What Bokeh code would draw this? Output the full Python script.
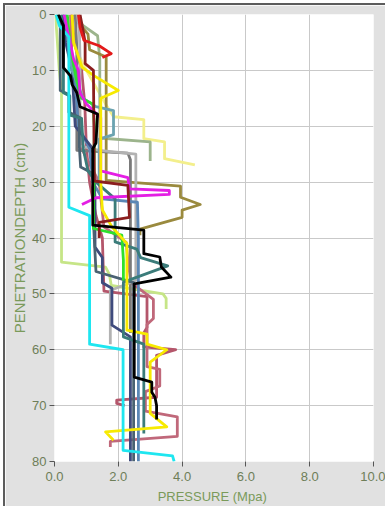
from bokeh.plotting import figure
from bokeh.models import Range1d, FixedTicker, NumeralTickFormatter
from bokeh.embed import file_html
from bokeh.resources import INLINE

x_ticks = [0, 2, 4, 6, 8, 10]
y_ticks = [0, 10, 20, 30, 40, 50, 60, 70, 80]

pale_yellow_p = [0.55, 0.6, 0.9, 1.3, 1.6, 1.85, 2.8, 2.8, 3.45, 3.45, 4.4]
pale_yellow_d = [0, 5, 9, 13, 16, 18.3, 18.8, 22.2, 22.8, 25.8, 26.9]
sage_p = [0.6, 0.9, 1.35, 1.42, 1.42, 3.0, 3.0]
sage_d = [0, 2, 3.8, 8, 22.1, 22.8, 26.2]
lime_pale_p = [0.03, 0.08, 0.15, 0.22, 0.22, 1.6, 1.72, 1.78, 3.4, 3.5, 3.5]
lime_pale_d = [0, 4, 10, 14, 44.3, 45.2, 46.5, 48.5, 50, 50.8, 52.7]
olive_p = [0.68, 0.75, 1.05, 1.1, 1.62, 1.62, 3.95, 3.95, 4.57, 4.0, 4.0, 2.68, 2.68]
olive_d = [0, 1.5, 3.5, 6.3, 7.6, 29.7, 30.7, 32.7, 34, 35, 36.3, 38.4, 39.5]
rosy1_p = [0.55, 0.62, 0.85, 0.95, 1.0, 1.1, 1.3, 1.5, 1.55, 2.9, 2.9, 2.8, 2.8, 3.8, 3.2, 3.2, 1.95, 1.95, 2.2]
rosy1_d = [0, 5, 10, 16, 24, 30, 36, 40, 49.5, 50.5, 56, 57, 59.5, 60, 61, 68.5, 69, 69.6, 70]
rosy2_p = [0.5, 0.55, 0.72, 0.8, 0.85, 1.4, 1.55, 2.25, 2.3, 2.4, 3.1, 3.1, 2.9, 2.9, 3.3, 3.3, 2.85, 2.85, 3.85, 3.85, 1.75, 1.75]
rosy2_d = [0, 8, 14, 20, 24, 30, 38, 40.8, 44, 48, 51, 54.4, 55.5, 63, 63.5, 66.5, 67.5, 71, 72, 75.5, 76.4, 77.4]
gray_p = [0.65, 0.7, 0.7, 2.3, 2.38, 2.38]
gray_d = [0, 6, 24.3, 24.8, 26, 57]
silver_p = [0.72, 0.78, 0.8, 0.8, 1.4, 2.55, 2.55, 1.75, 1.75]
silver_d = [0, 3, 8, 23.5, 24.3, 25, 47.6, 49.4, 59]
steel_p = [0.3, 0.4, 0.65, 0.75, 1.1, 1.2, 1.5, 2.6, 2.63, 2.63]
steel_d = [0, 4, 12, 20, 24, 30, 33, 33.6, 40, 80]
navy_p = [0.25, 0.35, 0.55, 0.65, 1.2, 1.27, 1.27, 1.5, 1.5, 1.8, 1.8, 2.38, 2.38]
navy_d = [0, 5, 10, 20, 24, 33, 41.6, 43.5, 48, 49, 55.6, 57.7, 80]
slate_p = [0.1, 0.18, 0.18, 0.45, 0.45, 0.78, 0.78, 0.82, 1.22, 1.22, 1.3, 2.48, 2.48]
slate_d = [0, 2, 13.6, 14.3, 17.5, 18.4, 23.7, 27.3, 28.5, 37, 46, 48, 80]
teal_p = [0.2, 0.28, 0.28, 0.48, 0.48, 0.85, 0.9, 1.05, 1.3, 1.9, 1.9, 2.58, 2.7, 3.55, 2.16, 2.16, 2.8, 2.8]
teal_d = [0, 3, 14, 14.6, 18, 18.6, 24, 28, 30, 33, 40.7, 42, 43.5, 45, 47.9, 57.7, 59, 75]
cadet_p = [0.35, 0.45, 0.55, 0.9, 1.3, 1.85, 1.85, 1.4, 1.4]
cadet_d = [0, 6, 10, 15, 16.5, 17.2, 21.5, 22.3, 30]
green_p = [0.4, 0.5, 0.7, 0.85, 1.2, 1.25, 1.22, 2.11, 2.16, 2.16]
green_d = [0, 6, 12, 15, 16, 20, 38.3, 39.5, 44, 47.6]
magenta_p = [0.3, 0.45, 0.6, 0.75, 0.8, 1.0, 1.45, 1.45, 2.3, 2.35, 3.6, 3.6, 1.3, 0.86]
magenta_d = [0, 4, 8, 10, 14, 16, 18.5, 28, 29.2, 31.2, 31.5, 32.2, 32.8, 34]
yellow_p = [0.55, 0.6, 0.86, 1.22, 2.0, 1.45, 1.45, 1.5, 1.8, 2.27, 2.27, 2.9, 2.9, 3.52, 3.0, 3.0, 3.52, 1.6, 1.85]
yellow_d = [0, 5, 9.4, 10.9, 13.6, 15, 30, 35, 38, 41, 56.5, 57.2, 59, 60, 62.2, 71.4, 73.8, 74.7, 76.2]
firebrick_p = [0.8, 0.9, 0.96, 0.96, 1.22, 1.25, 2.3, 2.35, 1.4, 1.4]
firebrick_d = [0, 3, 5, 8.8, 10, 29.8, 30.6, 36.3, 37.2, 40]
red_p = [0.75, 0.8, 0.92, 1.4, 1.78, 1.5]
red_d = [0, 2.3, 4.6, 5.6, 7, 7.7]
cyan_p = [0.05, 0.15, 0.45, 0.45, 1.1, 1.1, 2.15, 2.15, 3.7, 3.75]
cyan_d = [0, 2, 4, 34.5, 36, 59, 60, 78, 79, 80]
black_p = [0.12, 0.28, 0.28, 0.5, 0.55, 0.7, 0.8, 1.35, 1.3, 1.2, 1.2, 2.8, 2.8, 3.3, 3.35, 3.65, 2.5, 2.5, 3.05, 3.05, 3.15, 3.2, 3.2]
black_d = [0, 2, 9.5, 11, 12.5, 14, 16.5, 17.8, 23, 24, 37.7, 38.6, 42.8, 43.4, 45.2, 47, 48.2, 64.9, 65.8, 67.6, 68.5, 70, 72.5]

series = [
    (pale_yellow_p, pale_yellow_d, "#f3ef8c"),
    (sage_p, sage_d, "#9cb48c"),
    (lime_pale_p, lime_pale_d, "#c6e587"),
    (olive_p, olive_d, "#9a8a3e"),
    (rosy1_p, rosy1_d, "#b4566b"),
    (rosy2_p, rosy2_d, "#c0687a"),
    (gray_p, gray_d, "#7a7a7a"),
    (silver_p, silver_d, "#b2b2b2"),
    (steel_p, steel_d, "#5b87b5"),
    (navy_p, navy_d, "#3f4b7d"),
    (slate_p, slate_d, "#4a6272"),
    (teal_p, teal_d, "#3b7c7a"),
    (cadet_p, cadet_d, "#6ba3b0"),
    (green_p, green_d, "#2ee02e"),
    (magenta_p, magenta_d, "#e41ee4"),
    (yellow_p, yellow_d, "#f7ea00"),
    (firebrick_p, firebrick_d, "#8b1e1e"),
    (red_p, red_d, "#e31a1a"),
    (cyan_p, cyan_d, "#1ee6f0"),
    (black_p, black_d, "#000000"),
]

p = figure(width=382, height=503, x_range=Range1d(0, 10), y_range=Range1d(80, 0),
           output_backend="svg", toolbar_location=None,
           min_border_left=49, min_border_right=14, min_border_top=9, min_border_bottom=47,
           background_fill_color="white", border_fill_color="#e1e1e1")
p.outline_line_color = None
p.styles = {"border-top": "2px solid #5c5c5c", "border-left": "2px solid #5c5c5c",
            "margin-top": "3px", "margin-left": "3px"}

for xs, ys, c in series:
    p.line(xs, ys, line_color=c, line_width=2.8, line_join="round")

p.xaxis.ticker = FixedTicker(ticks=x_ticks)
p.xaxis.formatter = NumeralTickFormatter(format="0.0")
p.yaxis.ticker = FixedTicker(ticks=y_ticks)
p.xgrid.ticker = FixedTicker(ticks=x_ticks)
p.ygrid.ticker = FixedTicker(ticks=y_ticks)
p.grid.grid_line_color = "#c9c9c9"
p.grid.grid_line_width = 1

p.xaxis.axis_label = "PRESSURE  (Mpa)"
p.yaxis.axis_label = "PENETRATIONDEPTH (cm)"
for ax in (p.xaxis, p.yaxis):
    ax.axis_line_color = None
    ax.major_tick_line_color = "#555555"
    ax.major_tick_out = 5
    ax.major_tick_in = 0
    ax.minor_tick_line_color = None
    ax.major_label_text_color = "#6e7e58"
    ax.major_label_text_font = "Liberation Sans"
    ax.major_label_text_font_size = "13px"
    ax.axis_label_text_color = "#7a9a5a"
    ax.axis_label_text_font = "Liberation Sans"
    ax.axis_label_text_font_style = "normal"
p.xaxis.axis_label_text_font_size = "13px"
p.yaxis.axis_label_text_font_size = "15px"
p.xaxis.major_label_standoff = 5
p.xaxis.axis_label_standoff = 5
p.yaxis.major_label_standoff = 3
p.yaxis.axis_label_standoff = 1

open("out.html", "w").write(file_html(p, INLINE))
